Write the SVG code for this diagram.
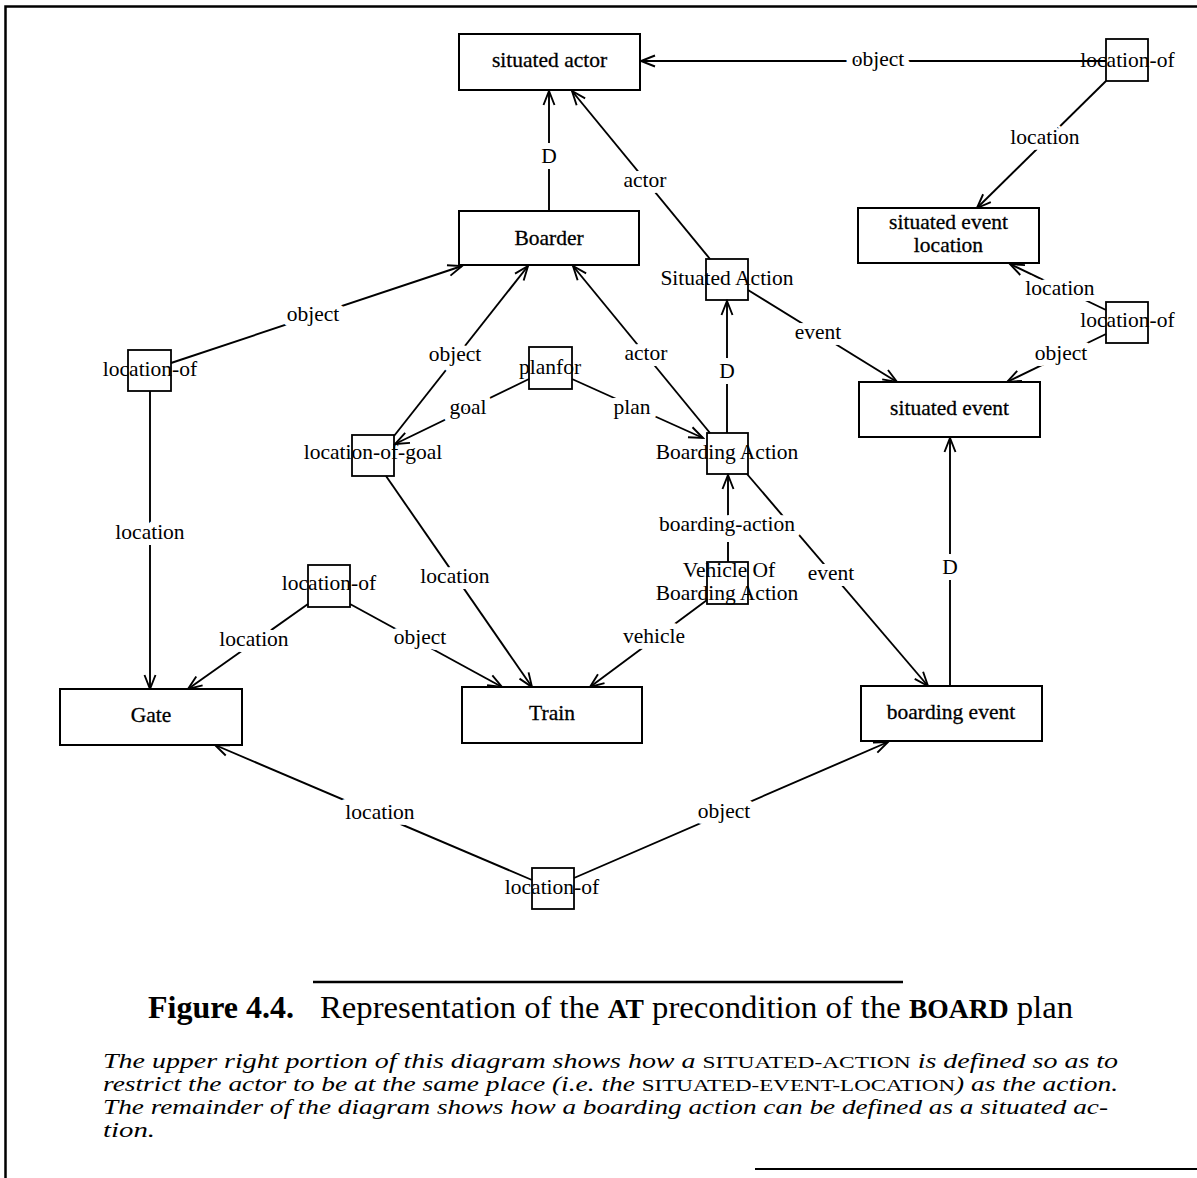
<svg xmlns="http://www.w3.org/2000/svg" width="1197" height="1178" viewBox="0 0 1197 1178">
  <style>
    .box { fill: #fff; stroke: #000; stroke-width: 2; }
    .sm { fill: none; stroke: #000; stroke-width: 1.8; }
    .node { font-family: "Liberation Serif", "Times New Roman", serif; font-size: 21.5px; text-anchor: middle; fill: #000; }
    .heavy { stroke: #000; stroke-width: 0.3; }
    .edge { stroke: #000; stroke-width: 1.9; fill: none; marker-end: url(#open); }
    .lbl { font-family: "Liberation Serif", "Times New Roman", serif; font-size: 21.5px; text-anchor: middle; fill: #000; stroke: #fff; stroke-width: 12; stroke-linejoin: round; paint-order: stroke; }
    .cap { font-family: "Liberation Serif", "Times New Roman", serif; fill: #000; }
    .it { font-family: "Liberation Serif", "Times New Roman", serif; font-style: italic; font-size: 20.3px; fill: #000; }
    .sc { font-style: normal; font-size: 17px; }
  </style>
  <defs>
    <marker id="open" viewBox="-16 -8 18 16" refX="0" refY="0" markerWidth="18" markerHeight="16" markerUnits="userSpaceOnUse" orient="auto">
      <path d="M-14,-5.5 L0,0 L-14,5.5" fill="none" stroke="#000" stroke-width="1.9"/>
    </marker>
  </defs>

  <!-- page frame -->
  <path d="M5.5,1178 V6.5 H1197" fill="none" stroke="#000" stroke-width="2.5"/>
  <path d="M755,1169 H1197" fill="none" stroke="#000" stroke-width="2"/>

  <!-- connectors -->
  <g id="connectors">
    <path class="edge" d="M1106,61 L641,61"/>
    <path class="edge" d="M1106,81 L977,208"/>
    <path class="edge" d="M549,211 L549,91"/>
    <path class="edge" d="M710,259 L572,91"/>
    <path class="edge" d="M748,290 L897,382"/>
    <path class="edge" d="M1106,310 L1010,264"/>
    <path class="edge" d="M1106,334 L1007,382"/>
    <path class="edge" d="M950,686 L950,438"/>
    <path class="edge" d="M727,433 L727,301"/>
    <path class="edge" d="M710,433 L573,266"/>
    <path class="edge" d="M394,436 L528,266"/>
    <path class="edge" d="M529,379 L395,444"/>
    <path class="edge" d="M572,379 L703,438"/>
    <path class="edge" d="M171,363 L462,266"/>
    <path class="edge" d="M150,391 L150,689"/>
    <path class="edge" d="M386,476 L532,687"/>
    <path class="edge" d="M308,604 L188,689"/>
    <path class="edge" d="M350,604 L502,687"/>
    <path class="edge" d="M707,600 L590,687"/>
    <path class="edge" d="M728,562 L728,475"/>
    <path class="edge" d="M747,474 L928,686"/>
    <path class="edge" d="M532,880 L215,745"/>
    <path class="edge" d="M574,878 L888,742"/>

    <text class="lbl" x="878" y="66">object</text>
    <text class="lbl" x="1045" y="144">location</text>
    <text class="lbl" x="549" y="163">D</text>
    <text class="lbl" x="645" y="187">actor</text>
    <text class="lbl" x="818" y="339">event</text>
    <text class="lbl" x="1060" y="295">location</text>
    <text class="lbl" x="1061" y="360">object</text>
    <text class="lbl" x="950" y="574">D</text>
    <text class="lbl" x="727" y="378">D</text>
    <text class="lbl" x="646" y="360">actor</text>
    <text class="lbl" x="455" y="361">object</text>
    <text class="lbl" x="468" y="414">goal</text>
    <text class="lbl" x="632" y="414">plan</text>
    <text class="lbl" x="313" y="321">object</text>
    <text class="lbl" x="150" y="539">location</text>
    <text class="lbl" x="455" y="583">location</text>
    <text class="lbl" x="254" y="646">location</text>
    <text class="lbl" x="420" y="644">object</text>
    <text class="lbl" x="654" y="643">vehicle</text>
    <text class="lbl" x="727" y="531">boarding-action</text>
    <text class="lbl" x="831" y="580">event</text>
    <text class="lbl" x="380" y="819">location</text>
    <text class="lbl" x="724" y="818">object</text>
  </g>

  <!-- concept nodes -->
  <g id="situated-actor">
    <rect class="box" x="459" y="34" width="181" height="56"/>
    <text class="node heavy" x="549.5" y="67">situated actor</text>
  </g>
  <g id="boarder">
    <rect class="box" x="459" y="211" width="180" height="54"/>
    <text class="node heavy" x="549" y="245">Boarder</text>
  </g>
  <g id="situated-event-location">
    <rect class="box" x="858" y="208" width="181" height="55"/>
    <text class="node heavy" x="948.5" y="229">situated event</text>
    <text class="node heavy" x="948.5" y="252">location</text>
  </g>
  <g id="situated-event">
    <rect class="box" x="859" y="382" width="181" height="55"/>
    <text class="node heavy" x="949.5" y="415">situated event</text>
  </g>
  <g id="boarding-event">
    <rect class="box" x="861" y="686" width="181" height="55"/>
    <text class="node heavy" x="951" y="719">boarding event</text>
  </g>
  <g id="gate">
    <rect class="box" x="60" y="689" width="182" height="56"/>
    <text class="node heavy" x="151" y="722">Gate</text>
  </g>
  <g id="train">
    <rect class="box" x="462" y="687" width="180" height="56"/>
    <text class="node heavy" x="552" y="720">Train</text>
  </g>

  <!-- relation nodes -->
  <g id="situated-action">
    <rect class="sm" x="706" y="259" width="42" height="41"/>
    <text class="node" x="727" y="285">Situated Action</text>
  </g>
  <g id="location-of-top">
    <rect class="sm" x="1106" y="39" width="42" height="42"/>
    <text class="node" x="1127.5" y="67">location-of</text>
  </g>
  <g id="location-of-right">
    <rect class="sm" x="1106" y="302" width="42" height="41"/>
    <text class="node" x="1127.5" y="327">location-of</text>
  </g>
  <g id="location-of-left">
    <rect class="sm" x="128" y="350" width="43" height="41"/>
    <text class="node" x="150" y="376">location-of</text>
  </g>
  <g id="location-of-mid">
    <rect class="sm" x="308" y="565" width="42" height="42"/>
    <text class="node" x="329" y="590">location-of</text>
  </g>
  <g id="location-of-goal">
    <rect class="sm" x="352" y="435" width="42" height="41"/>
    <text class="node" x="373" y="459">location-of-goal</text>
  </g>
  <g id="planfor">
    <rect class="sm" x="529" y="347" width="43" height="42"/>
    <text class="node" x="550" y="374">planfor</text>
  </g>
  <g id="boarding-action">
    <rect class="sm" x="707" y="433" width="41" height="41"/>
    <text class="node" x="727" y="459">Boarding Action</text>
  </g>
  <g id="vehicle-of-boarding-action">
    <rect class="sm" x="707" y="562" width="41" height="42"/>
    <text class="node" x="729" y="577">Vehicle Of</text>
    <text class="node" x="727" y="600">Boarding Action</text>
  </g>
  <g id="location-of-bottom">
    <rect class="sm" x="532" y="868" width="42" height="41"/>
    <text class="node" x="552" y="894">location-of</text>
  </g>

  <!-- caption -->
  <path d="M313,982 H903" stroke="#000" stroke-width="2.5"/>
  <text class="cap" x="148" y="1018" font-size="32" font-weight="bold">Figure 4.4.</text>
  <text class="cap" x="320" y="1018" font-size="32" textLength="753" lengthAdjust="spacingAndGlyphs">Representation of the <tspan font-weight="bold" font-size="27">AT</tspan> precondition of the <tspan font-weight="bold" font-size="27">BOARD</tspan> plan</text>

  <text class="it" x="103" y="1068" textLength="1015" lengthAdjust="spacingAndGlyphs">The upper right portion of this diagram shows how a <tspan class="sc">SITUATED-ACTION</tspan> is defined so as to</text>
  <text class="it" x="103" y="1091" textLength="1015" lengthAdjust="spacingAndGlyphs">restrict the actor to be at the same place (i.e. the <tspan class="sc">SITUATED-EVENT-LOCATION</tspan>) as the action.</text>
  <text class="it" x="103" y="1114" textLength="1005" lengthAdjust="spacingAndGlyphs">The remainder of the diagram shows how a boarding action can be defined as a situated ac-</text>
  <text class="it" x="103" y="1137" textLength="52" lengthAdjust="spacingAndGlyphs">tion.</text>
</svg>
